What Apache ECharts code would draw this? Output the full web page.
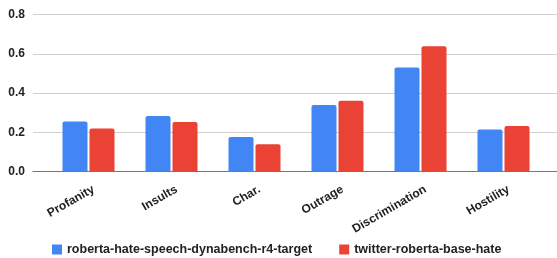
<!DOCTYPE html>
<html><head><meta charset="utf-8">
<script src="https://cdn.jsdelivr.net/npm/echarts@6/dist/echarts.min.js"></script>
<style>html,body{margin:0;padding:0;background:#fff}#c{width:557px;height:258px}</style>
</head><body><div id="c"></div>
<script>
const categories = ['Profanity', 'Insults', 'Char.', 'Outrage', 'Discrimination', 'Hostility'];
const seriesNames = ['roberta-hate-speech-dynabench-r4-target', 'twitter-roberta-base-hate'];
const blueValues = [0.255, 0.283, 0.176, 0.339, 0.530, 0.214];
const redValues = [0.220, 0.253, 0.139, 0.361, 0.639, 0.232];
const yTicks = [0, 0.2, 0.4, 0.6, 0.8];

const font = 'Liberation Sans, Arial, sans-serif';
const chart = echarts.init(document.getElementById('c'), null, {renderer: 'canvas'});
chart.setOption({
  animation: false,
  legend: {
    top: 243, left: 52, padding: 0,
    itemWidth: 10, itemHeight: 10, itemGap: 27,
    icon: 'rect',
    textStyle: {fontFamily: font, fontSize: 12.5, fontWeight: 'bold', color: '#222'},
    data: seriesNames
  },
  grid: [
    {left: 33, right: 0, top: 14.7, bottom: 86.5},
    {left: 47, right: 12, top: 14.7, bottom: 86.5},
    {left: 52, right: 7, top: 14.7, bottom: 86.5}
  ],
  xAxis: [
    {gridIndex: 0, type: 'value', min: 0, max: 1, show: true,
     axisLine: {show: true, lineStyle: {color: '#777', width: 1.2}},
     axisTick: {show: false}, axisLabel: {show: false}, splitLine: {show: false}},
    {gridIndex: 1, type: 'category', data: categories,
     axisLine: {show: false}, axisTick: {show: false}, axisLabel: {show: false}},
    {gridIndex: 2, type: 'category', data: categories,
     axisLine: {show: false}, axisTick: {show: false},
     axisLabel: {rotate: 30, margin: 17, fontFamily: font, fontSize: 12, fontWeight: 'bold', color: '#222', interval: 0}}
  ],
  yAxis: [
    {gridIndex: 0, type: 'value', min: yTicks[0], max: yTicks[yTicks.length - 1], interval: 0.2,
     axisLine: {show: false}, axisTick: {show: false},
     axisLabel: {margin: 8, fontFamily: font, fontSize: 12, fontWeight: 'bold', color: '#222',
                 formatter: v => v.toFixed(1)},
     splitLine: {lineStyle: {color: '#d0d0d0', width: 1}}},
    {gridIndex: 1, type: 'value', min: yTicks[0], max: yTicks[yTicks.length - 1], show: false, splitLine: {show: false}},
    {gridIndex: 2, type: 'value', min: 0, max: 1, show: false, splitLine: {show: false}}
  ],
  series: [
    {name: seriesNames[0], type: 'bar', xAxisIndex: 1, yAxisIndex: 1, data: blueValues,
     barWidth: 25, barGap: '8%', itemStyle: {color: '#4285F4', borderRadius: [2, 2, 0, 0]}},
    {name: seriesNames[1], type: 'bar', xAxisIndex: 1, yAxisIndex: 1, data: redValues,
     barWidth: 25, barGap: '8%', itemStyle: {color: '#EA4335', borderRadius: [2, 2, 0, 0]}}
  ]
});
</script></body></html>
